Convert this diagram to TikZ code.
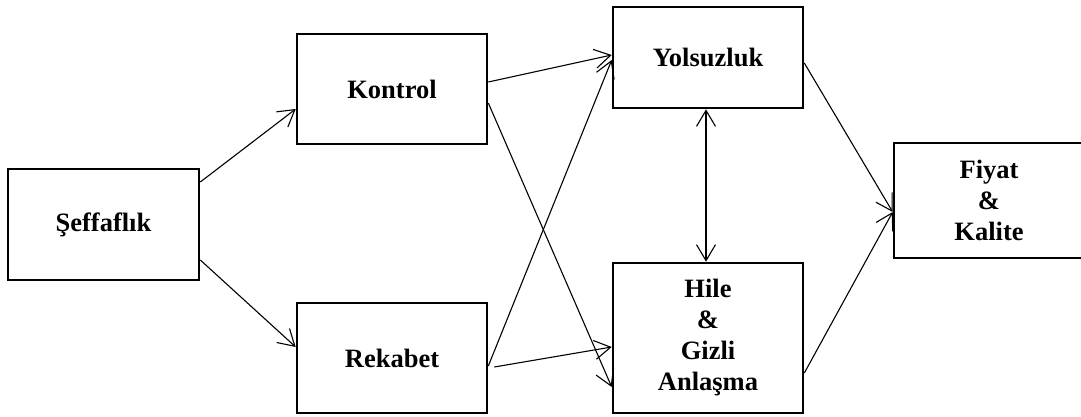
\documentclass[tikz,border=0pt]{standalone}
\usepackage{fontspec}
\setmainfont{Liberation Serif}
\usetikzlibrary{arrows.meta}

\begin{document}
\begin{tikzpicture}[x=1pt,y=-1pt,
  box/.style={draw, line width=2.6pt, rectangle, inner sep=0pt, align=center,
    minimum width=190pt, font=\fontsize{26.5}{31}\selectfont\bfseries},
  link/.style={line width=1.1pt, -{Straight Barb[length=16pt,width=19pt,line width=1.1pt]}},
  bilink/.style={line width=1.1pt, {Straight Barb[length=16pt,width=19pt,line width=1.1pt]}-{Straight Barb[length=16pt,width=19pt,line width=1.1pt]}}
]
\useasboundingbox (0,0) rectangle (1081,417);
\clip (0,0) rectangle (1081,417);

% boxes
\node[box, minimum width=191pt, minimum height=111pt] (S) at (103.5,224.5) {Şeffaflık};
\node[box, minimum height=110pt] (K) at (392,89) {Kontrol};
\node[box, minimum height=110pt] (R) at (392,358) {Rekabet};
\node[box, minimum height=101pt] (Y) at (708,57.5) {Yolsuzluk};
\node[box, minimum height=150pt] (H) at (708,338) {Hile\\\&\\Gizli\\Anlaşma};
\node[box, minimum height=115pt] (F) at (989,200.5) {Fiyat\\\&\\Kalite};

% connectors
\draw[link] ([yshift=42.5pt]S.east) -- ([yshift=-20pt]K.west);
\draw[link] ([yshift=-35.5pt]S.east) -- ([yshift=11pt]R.west);
\draw[link] ([yshift=7pt]K.east) -- ([yshift=2.5pt]Y.west);
\draw[link] ([yshift=-14pt]K.east) -- ([yshift=-49pt]H.west);
\draw[link] ([yshift=-8pt]R.east) -- ([yshift=-2.5pt]Y.west);
\draw[link] ([xshift=6pt,yshift=-9pt]R.east) -- ([yshift=-9pt]H.west);
\draw[bilink] ([xshift=-2pt]Y.south) -- ([xshift=-2pt]H.north);
\draw[link] ([yshift=-5.5pt]Y.east) -- ([yshift=-11.5pt]F.west);
\draw[link] ([yshift=-35pt]H.east) -- ([yshift=-11.5pt]F.west);
\end{tikzpicture}
\end{document}
